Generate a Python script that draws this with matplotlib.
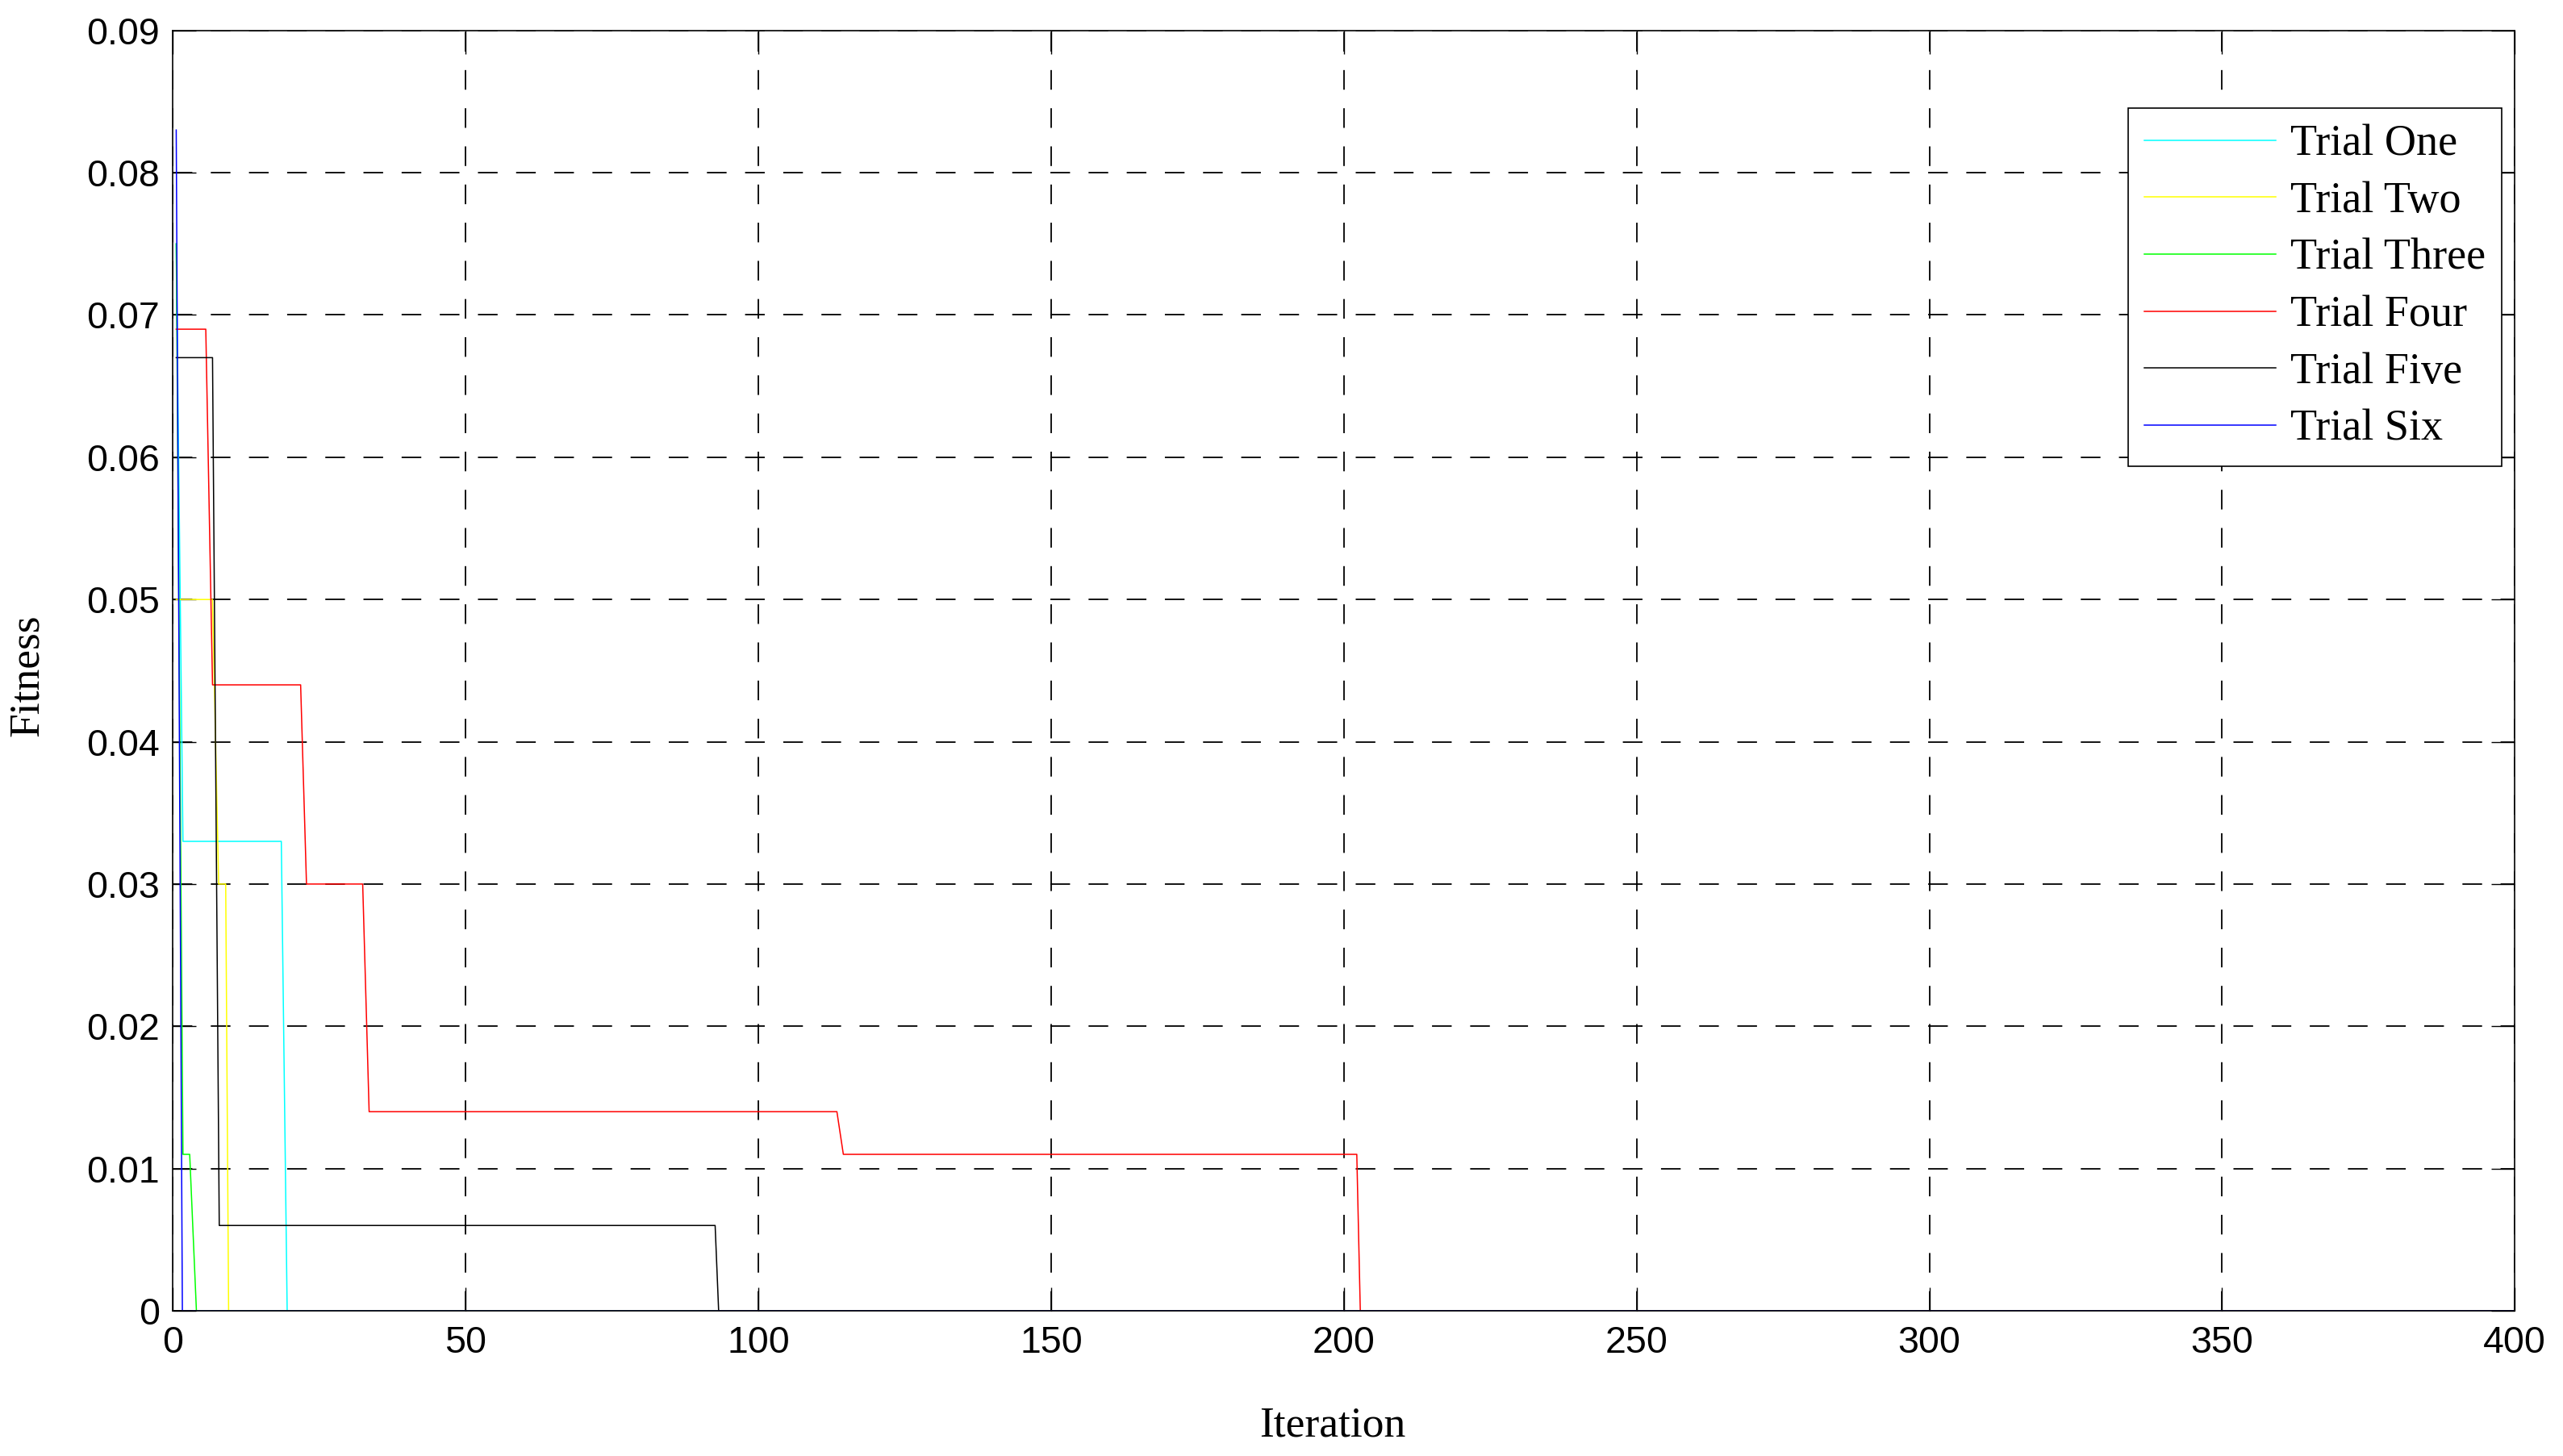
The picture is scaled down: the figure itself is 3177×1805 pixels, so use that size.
import matplotlib
matplotlib.use("Agg")
import matplotlib.pyplot as plt

# ---- data (vertices of each trial's fitness curve) ----
trial_labels = ["Trial One", "Trial Two", "Trial Three", "Trial Four", "Trial Five", "Trial Six"]
trial_colors = ["#00FFFF", "#FFFF00", "#00FF00", "#FF0000", "#000000", "#0000FF"]

one_iter = [0.55, 1.7, 18.5, 19.5, 400]
one_fit = [0.075, 0.033, 0.033, 0.0, 0.0]

two_iter = [0.55, 6.75, 7.8, 9.0, 9.5, 400]
two_fit = [0.050, 0.050, 0.030, 0.030, 0.0, 0.0]

three_iter = [0.55, 1.7, 2.85, 4.0, 400]
three_fit = [0.075, 0.011, 0.011, 0.0, 0.0]

four_iter = [0.55, 5.6, 6.75, 21.8, 22.8, 32.4, 33.5, 113.4, 114.5, 202.2, 202.8, 400]
four_fit = [0.069, 0.069, 0.044, 0.044, 0.030, 0.030, 0.014, 0.014, 0.011, 0.011, 0.0, 0.0]

five_iter = [0.55, 6.75, 7.9, 92.6, 93.2, 400]
five_fit = [0.067, 0.067, 0.006, 0.006, 0.0, 0.0]

six_iter = [0.55, 1.6, 400]
six_fit = [0.083, 0.0, 0.0]

x_ticks = [0, 50, 100, 150, 200, 250, 300, 350, 400]
y_ticks = [0, 0.01, 0.02, 0.03, 0.04, 0.05, 0.06, 0.07, 0.08, 0.09]
y_tick_labels = ["0", "0.01", "0.02", "0.03", "0.04", "0.05", "0.06", "0.07", "0.08", "0.09"]

series = [(one_iter, one_fit), (two_iter, two_fit), (three_iter, three_fit),
          (four_iter, four_fit), (five_iter, five_fit), (six_iter, six_fit)]

# ---- figure ----
fig = plt.figure(figsize=(31.77, 18.05), dpi=100)
ax = fig.add_axes([0.0675, 0.0997, 0.9137, 0.8794])

for (xs, ys), lab, col in zip(series, trial_labels, trial_colors):
    ax.plot(xs, ys, color=col, lw=1.1, label=lab)

ax.set_xlim(0, 400)
ax.set_ylim(0, 0.09)
ax.set_xticks(x_ticks)
ax.set_xticklabels([str(t) for t in x_ticks])
ax.set_yticks(y_ticks)
ax.set_yticklabels(y_tick_labels)

tick_font = "Liberation Sans"
serif_font = "Liberation Serif"
for lbl in ax.get_xticklabels() + ax.get_yticklabels():
    lbl.set_fontfamily(tick_font)
    lbl.set_fontsize(33.5)

ax.tick_params(axis="both", which="major", direction="in", length=21, width=1.0,
               top=True, right=True, color="black")
ax.tick_params(axis="x", pad=13)
ax.tick_params(axis="y", pad=12)

for sp in ax.spines.values():
    sp.set_linewidth(1.2)
    sp.set_color("black")

ax.grid(True, color="black", linestyle=(0, (13.5, 12.7)), linewidth=1.3)
ax.set_axisbelow(True)

ax.set_xlabel("Iteration", fontfamily=serif_font, fontsize=38.5, va="baseline")
ax.xaxis.set_label_coords(0.495, -0.0977)
ax.set_ylabel("Fitness", fontfamily=serif_font, fontsize=38.5, va="center")
ax.yaxis.set_label_coords(-0.0623, 0.496)

leg = ax.legend(loc="upper right", bbox_to_anchor=(0.9945, 0.9395),
                prop={"family": serif_font, "size": 39},
                frameon=True, fancybox=False, framealpha=1.0, edgecolor="black",
                handlelength=3.0, handletextpad=0.33, labelspacing=0.37,
                borderpad=0.38, borderaxespad=0.0)
leg.get_frame().set_linewidth(1.2)

fig.savefig("out.png", dpi=100, facecolor="white")
